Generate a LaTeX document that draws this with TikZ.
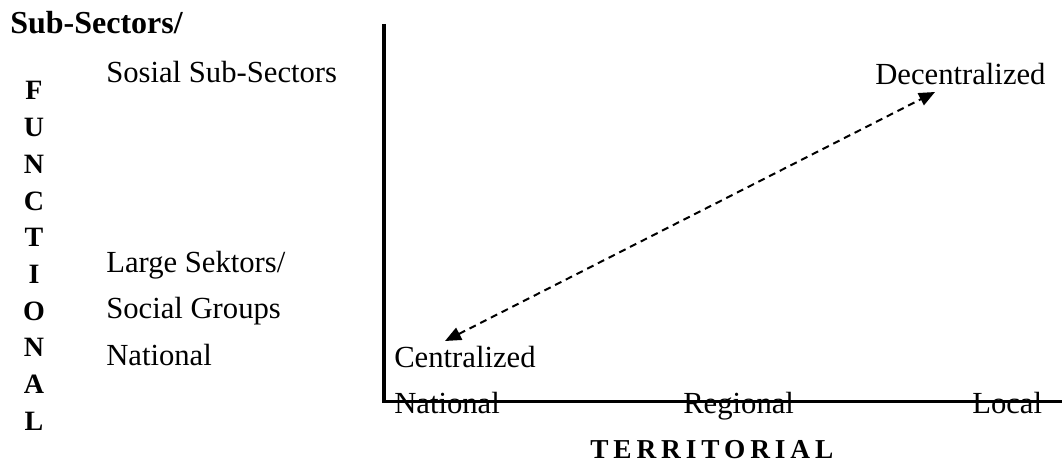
\documentclass[tikz,border=0pt]{standalone}
\usepackage{fontspec}
\setmainfont{Liberation Serif}
\usetikzlibrary{arrows.meta}
\begin{document}
\begin{tikzpicture}[x=0.75pt,y=-0.75pt,
  lbl/.style={inner sep=0pt, anchor=base west, font=\fontsize{23}{28}\selectfont},
  boldlbl/.style={inner sep=0pt, anchor=base west, font=\fontsize{24}{29}\selectfont\bfseries},
  vlet/.style={inner sep=0pt, anchor=base, font=\fontsize{21}{25}\selectfont\bfseries},
  axtitle/.style={inner sep=0pt, anchor=base west, font=\fontsize{20.5}{24}\selectfont\bfseries\addfontfeature{LetterSpace=18}},
  axisline/.style={line width=2.6pt},
  dasharrow/.style={line width=1.5pt, dash pattern=on 5.25pt off 3.75pt,
    {Triangle[length=12pt,width=10pt]}-{Triangle[length=12pt,width=10pt]}}]
\useasboundingbox (0,0) rectangle (1062,463);
% left labels
\node[boldlbl] (subsec) at (10,34) {Sub-Sectors/};
\node[lbl] (sosial) at (106,83) {Sosial Sub-Sectors};
\node[lbl] (large) at (106,272) {Large Sektors/};
\node[lbl] (social) at (106,318) {Social Groups};
\node[lbl] (natl) at (106,365) {National};
% vertical FUNCTIONAL
\foreach \ch [count=\i from 0] in {F,U,N,C,T,I,O,N,A,L}
  \node[vlet] (f\i) at (34,{100+36.7*\i}) {\ch};
% axes
\coordinate (ytop) at (384,24);
\coordinate (orig) at (384,401.5);
\coordinate (xend) at (1062,401.5);
\node[lbl] (xnat) at (394,413) {National};
\node[lbl] (xreg) at (683,413) {Regional};
\node[lbl] (xloc) at (972,413) {Local};
\node[axtitle] (terr) at (590,458) {TERRITORIAL};
\draw[axisline] (ytop) -- (orig) -- (xend);
% ends
\node[lbl] (cent) at (394,367) {Centralized};
\node[lbl] (decent) at (875,85) {Decentralized};
\coordinate (c1) at (445,341);
\coordinate (c2) at (935,92);
\draw[dasharrow] (c1) -- (c2);
\end{tikzpicture}
\end{document}
